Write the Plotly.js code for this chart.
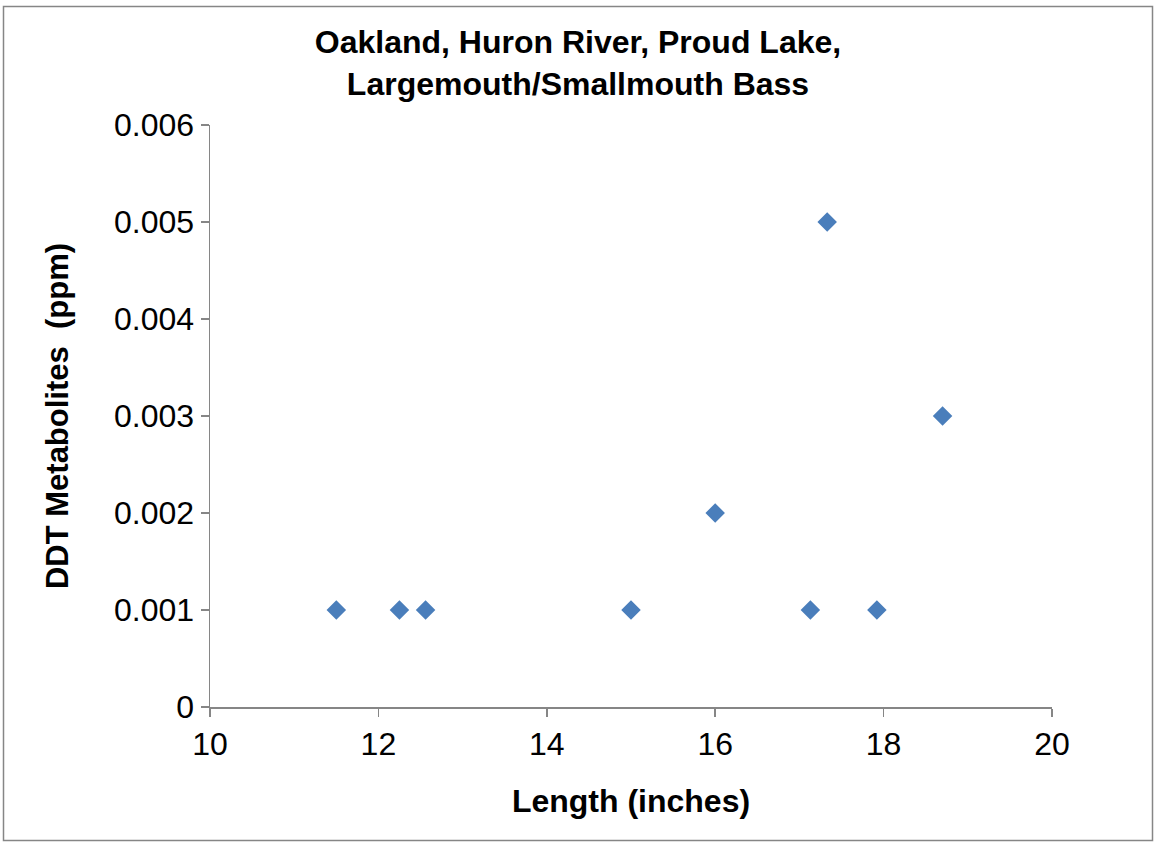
<!DOCTYPE html>
<html>
<head>
<meta charset="utf-8">
<script src="https://cdn.plot.ly/plotly-3.0.1.min.js"></script>
<style>
html, body { margin: 0; padding: 0; background: #ffffff; }
#chart { width: 1156px; height: 842px; }
</style>
</head>
<body>
<div id="chart"></div>
<script>
// Data
const lengthInches = [11.5, 12.25, 12.56, 15, 16, 17.13, 17.33, 17.92, 18.7];
const ddtPpm = [0.001, 0.001, 0.001, 0.001, 0.002, 0.001, 0.005, 0.001, 0.003];

const chartTitle = 'Oakland, Huron River, Proud Lake,<br>Largemouth/Smallmouth Bass';
const xTitle = 'Length (inches)';
const yTitle = 'DDT Metabolites  (ppm)';

const W = 1156, H = 842;
const M = { l: 210, r: 104, t: 125, b: 135 };
const pw = W - M.l - M.r, ph = H - M.t - M.b;
const px = v => (v - M.l) / pw;
const py = v => 1 - (v - M.t) / ph;

const font = 'Liberation Sans, Arial, sans-serif';
const axisGray = '#868686';

const trace = {
  type: 'scatter',
  mode: 'markers',
  x: lengthInches,
  y: ddtPpm,
  marker: { symbol: 'diamond', size: 15, color: '#4a7ebb', line: { width: 0 } },
  hoverinfo: 'x+y'
};

const layout = {
  width: W, height: H,
  margin: M,
  paper_bgcolor: '#ffffff',
  plot_bgcolor: '#ffffff',
  showlegend: false,
  font: { family: font, color: '#000000' },
  title: {
    text: chartTitle,
    font: { family: font, size: 32, color: '#000000', weight: 'bold' },
    x: 0.5, xanchor: 'center',
    y: 1 - 53 / H, yanchor: 'middle', yref: 'container'
  },
  xaxis: {
    range: [10, 20],
    tick0: 10, dtick: 2,
    showgrid: false, zeroline: false,
    showline: true, linecolor: axisGray, linewidth: 1.5,
    ticks: 'outside', ticklen: 8, tickwidth: 1.5, tickcolor: axisGray,
    tickfont: { family: font, size: 32, color: '#000000' },
    title: { text: xTitle, font: { family: font, size: 32, color: '#000000', weight: 'bold' }, standoff: 28 }
  },
  yaxis: {
    range: [0, 0.006],
    tick0: 0, dtick: 0.001,
    showgrid: false, zeroline: false,
    showline: true, linecolor: axisGray, linewidth: 1.5,
    ticks: 'outside', ticklen: 8, tickwidth: 1.5, tickcolor: axisGray,
    tickfont: { family: font, size: 32, color: '#000000' },
    title: { text: yTitle, font: { family: font, size: 31, color: '#000000', weight: 'bold' }, standoff: 36 }
  },
  shapes: [{
    type: 'rect', xref: 'paper', yref: 'paper',
    x0: px(3.5), x1: px(1152.5), y0: py(840.5), y1: py(6.5),
    line: { color: axisGray, width: 1.5 }, fillcolor: 'rgba(0,0,0,0)', layer: 'below'
  }]
};

Plotly.newPlot('chart', [trace], layout, { displayModeBar: false, staticPlot: true });
</script>
</body>
</html>
